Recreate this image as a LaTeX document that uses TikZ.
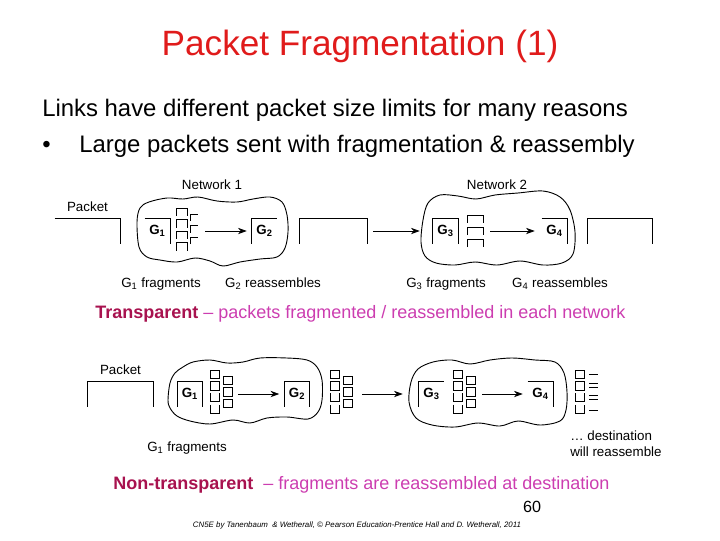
\documentclass[tikz,border=0pt]{standalone}
\usepackage{fontspec}
\setmainfont{Liberation Sans}
\usepackage{xcolor}
\usetikzlibrary{arrows.meta,positioning}
\definecolor{TitleRed}{HTML}{E01B1B}
\definecolor{NoteCrimson}{HTML}{A8124F}
\definecolor{NoteMagenta}{HTML}{CC3DB0}
\tikzset{
  edge/.style={draw=black,line width=0.6pt},
  cloudline/.style={draw=black,line width=0.65pt},
  flow/.style={-{Stealth[length=2.2mm,width=1.6mm]},line width=0.55pt},
  gbox/.style={inner sep=0pt,minimum width=6.25mm,minimum height=6.3mm,
    font=\bfseries\fontsize{9.5}{11}\selectfont},
  pktbox/.style={inner sep=0pt,minimum height=6.3mm},
  lbl/.style={inner sep=0pt,font=\fontsize{9.5}{11}\selectfont},
  title/.style={inner sep=0pt,text=TitleRed,font=\fontsize{25}{30}\selectfont},
  body/.style={inner sep=0pt,font=\fontsize{17}{20}\selectfont},
  note/.style={inner sep=0pt,font=\fontsize{12.8}{15}\selectfont},
  % fragments in the first picture
  fragtop/.pic={
    \foreach \r in {0,...,3}
      \draw[edge] (0,\r*11.5+8) |- (11,\r*11.5) -- (11,\r*11.5+8);
    \foreach \r in {0,1,2}
      \draw[edge] (14,\r*11.5+13) |- (22,\r*11.5+6);
  },
  fragnet/.pic={
    \foreach \r in {0,1,2}
      \draw[edge] (0,\r*12+8) |- (16,\r*12) -- (16,\r*12+8);
  },
  % fragments in the second picture
  fragcol/.pic={
    \foreach \r in {0,1}
      \draw[edge] (0,\r*11.5) rectangle ++(9,8.5);
    \foreach \r in {2,3}
      \draw[edge] (0,\r*11.5) -- ++(0,8.5) -- ++(9,0) -- ++(0,-8.5);
  },
  fraggrid/.pic={
    \pic {fragcol};
    \foreach \r in {0,1,2}
      \draw[edge] (13,6+\r*11.5) rectangle ++(9,8.5);
  },
  fragdash/.pic={
    \pic {fragcol};
    \foreach \d in {4,13.5,17.5,25.5,29.5,40}
      \draw[edge] (14,\d) -- (23,\d);
  }
}

\begin{document}
\begin{tikzpicture}[x=0.025cm,y=-0.025cm]
  \useasboundingbox (0,0) rectangle (720,540);
  \node[title,anchor=base] (ttl) at (360,55) {Packet Fragmentation (1)};
  \node[body,anchor=base west] (ln1) at (42,116) {Links have different packet size limits for many reasons};
  \node[body,anchor=base west] (bul) at (42,152) {•};
  \node[body,anchor=base west] (ln2) at (79,152) {Large packets sent with fragmentation \& reassembly};

  % transparent fragmentation
  \draw[cloudline] plot[smooth cycle,tension=0.55] coordinates {(137,222) (140,208) (149,202)
    (167,198) (183,199) (198,197) (217,201) (237,202) (253,199) (270,197) (282,202) (287,215)
    (288,232) (285,248) (277,257) (260,259) (240,262) (223,266) (210,261) (195,258) (177,262)
    (160,260) (147,257) (139,247)};
  \draw[cloudline] plot[smooth cycle,tension=0.55] coordinates {(421,242) (423,220) (428,203)
    (440,195) (458,196) (476,199) (495,195) (518,193) (543,191) (560,197) (570,210) (575,232)
    (573,254) (562,263) (543,265) (520,261) (497,265) (475,262) (455,265) (436,263) (425,256)};
  \node[lbl,anchor=base] (net1) at (212,189) {Network 1};
  \node[lbl,anchor=base] (net2) at (497,189) {Network 2};
  \node[pktbox,minimum width=16.25mm] (pkta) at (87.5,231) {};
  \node[lbl,above=1.5mm of pkta.north] (pktatxt) {Packet};
  \draw[edge] (pkta.north west) -- (pkta.north east) -- (pkta.south east);
  \node[gbox] (tg1) at (157.5,231) {G\textsubscript{1}};
  \draw[edge] (tg1.north west) -- (tg1.north east) -- (tg1.south east);
  \pic at (176,208) {fragtop};
  \coordinate (ta1) at (205,231);
  \node[gbox] (tg2) at (264.5,231) {G\textsubscript{2}};
  \draw[edge] (tg2.south west) -- (tg2.north west) -- (tg2.north east);
  \draw[flow,shorten >=1.25mm] (ta1) -- (tg2.west);
  \node[pktbox,minimum width=16.75mm] (pktb) at (333.5,231) {};
  \draw[edge] (pktb.south west) -- (pktb.north west) -- (pktb.north east) -- (pktb.south east);
  \node[gbox] (tg3) at (445.5,231) {G\textsubscript{3}};
  \draw[edge] (tg3.south west) -- (tg3.north west) -- (tg3.north east) -- (tg3.south east);
  \draw[flow,shorten <=1.5mm,shorten >=3.25mm] (pktb.east) -- (tg3.west);
  \pic at (467,215) {fragnet};
  \coordinate (tc1) at (490,231);
  \node[gbox] (tg4) at (554.5,231) {G\textsubscript{4}};
  \draw[edge] (tg4.north west) -- (tg4.north east) -- (tg4.south east);
  \draw[flow,shorten >=1.75mm] (tc1) -- (tg4.west);
  \node[pktbox,minimum width=16mm] (pktc) at (620,231) {};
  \draw[edge] (pktc.south west) -- (pktc.north west) -- (pktc.north east) -- (pktc.south east);
  \node[lbl,anchor=base] (tl1) at (161,287) {G\textsubscript{1} fragments};
  \node[lbl,anchor=base] (tl2) at (273,287) {G\textsubscript{2} reassembles};
  \node[lbl,anchor=base] (tl3) at (446,287) {G\textsubscript{3} fragments};
  \node[lbl,anchor=base] (tl4) at (560,287) {G\textsubscript{4} reassembles};
  \node[note,anchor=base west] (trn) at (95,318) {\textbf{\color{NoteCrimson}Transparent}\color{NoteMagenta}\ – packets fragmented / reassembled in each network};

  % non-transparent fragmentation
  \draw[cloudline] plot[smooth cycle,tension=0.55] coordinates {(168,400) (170,383) (175,373)
    (183,367) (193,362) (210,360) (227,363) (243,362) (260,358) (287,358) (307,360) (317,367)
    (322,380) (322,400) (318,412) (308,419) (287,417) (267,418) (250,423) (233,420) (210,424)
    (190,421) (177,416) (170,408)};
  \draw[cloudline] plot[smooth cycle,tension=0.55] coordinates {(409,402) (411,382) (418,369)
    (433,362) (452,360) (470,364) (490,360) (512,358) (535,360) (555,362) (564,373) (567,392)
    (566,410) (560,421) (540,425) (518,421) (500,426) (478,423) (455,427) (432,425) (416,418)};
  \node[pktbox,minimum width=16.25mm,minimum height=6.25mm] (bpkt) at (120.5,394) {};
  \node[lbl,above=1.5mm of bpkt.north] (bpkttxt) {Packet};
  \draw[edge] (bpkt.south west) -- (bpkt.north west) -- (bpkt.north east) -- (bpkt.south east);
  \node[gbox,minimum height=6.25mm] (bg1) at (190,394) {G\textsubscript{1}};
  \draw[edge] (bg1.south west) -- (bg1.north west) -- (bg1.north east) -- (bg1.south east);
  \pic at (210,370) {fraggrid};
  \coordinate (ba1) at (238,394);
  \node[gbox,minimum height=6.25mm] (bg2) at (297,394) {G\textsubscript{2}};
  \draw[edge] (bg2.south west) -- (bg2.north west) -- (bg2.north east) -- (bg2.south east);
  \draw[flow,shorten >=1.25mm] (ba1) -- (bg2.west);
  \pic at (330,370) {fraggrid};
  \coordinate (bb1) at (362,394);
  \node[gbox,minimum height=6.25mm] (bg3) at (431.5,394) {G\textsubscript{3}};
  \draw[edge] (bg3.south west) -- (bg3.north west) -- (bg3.north east);
  \draw[flow,shorten >=4mm] (bb1) -- (bg3.west);
  \pic at (453,370) {fraggrid};
  \coordinate (bc1) at (482,394);
  \node[gbox,minimum height=6.25mm] (bg4) at (540.5,394) {G\textsubscript{4}};
  \draw[edge] (bg4.north west) -- (bg4.north east) -- (bg4.south east);
  \draw[flow,shorten >=1.25mm] (bc1) -- (bg4.west);
  \pic at (575,370) {fragdash};
  \node[lbl,anchor=base] (bl1) at (187,451) {G\textsubscript{1} fragments};
  \node[lbl,anchor=base west] (dst1) at (570,440) {… destination};
  \node[lbl,anchor=base west] (dst2) at (570,456) {will reassemble};
  \node[note,anchor=base west] (ntr) at (113,489) {\textbf{\color{NoteCrimson}Non-transparent}\color{NoteMagenta}\ \ – fragments are reassembled at destination};
  \node[inner sep=0pt,anchor=base,font=\fontsize{11.5}{13}\selectfont] (pg) at (532,512) {60};
  \node[inner sep=0pt,anchor=base,font=\itshape\fontsize{5.6}{6}\selectfont] (foot) at (357,527) {CN5E by Tanenbaum\ \ \& Wetherall, © Pearson Education-Prentice Hall and D. Wetherall, 2011};
\end{tikzpicture}
\end{document}
